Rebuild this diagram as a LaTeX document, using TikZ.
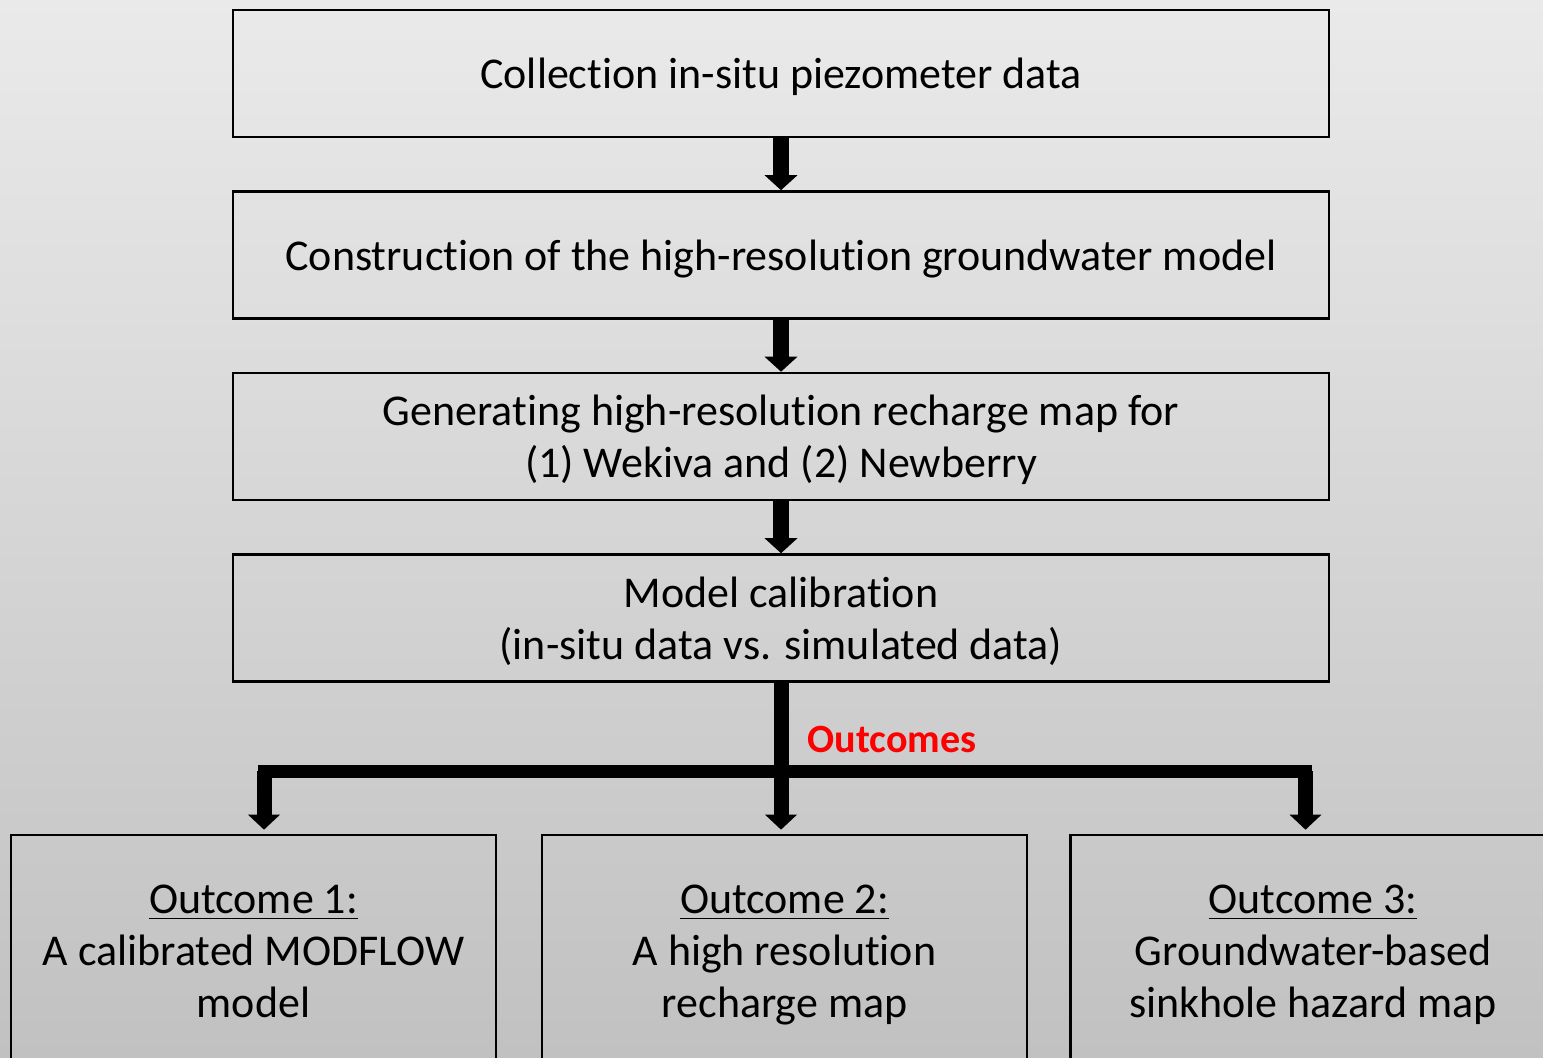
\documentclass[tikz,border=0pt]{standalone}
\usepackage{fontspec}
\setmainfont[Ligatures=NoCommon]{Carlito}
\usetikzlibrary{arrows.meta}

\definecolor{bgtop}{RGB}{234,234,234}
\definecolor{bgbottom}{RGB}{193,193,193}
\definecolor{outred}{RGB}{255,0,0}

\newcommand{\boxfont}{\fontsize{12.5}{14.8}\selectfont}
\newcommand{\bstrut}{\rule[-0.2em]{0pt}{1.1em}}

\begin{document}
\begin{tikzpicture}[x=0.01cm,y=-0.01cm,
  stepbox/.style={draw,line width=0.7pt,minimum width=10.95cm,minimum height=1.27cm,
    align=center,inner sep=0pt,font=\boxfont},
  outbox/.style={draw,line width=0.7pt,minimum width=4.85cm,minimum height=2.3cm,
    align=center,inner sep=0pt,font=\boxfont},
  flow/.style={line width=0.16cm,-{Triangle[width=0.32cm,length=0.15cm]}},
  branch/.style={line width=0.15cm,-{Triangle[width=0.31cm,length=0.15cm]},shorten >=0.04cm},
  bar/.style={line width=0.13cm,line cap=rect}]

\useasboundingbox (0,0) rectangle (1543,1058);
\clip (0,0) rectangle (1543,1058);
\shade[top color=bgtop,bottom color=bgbottom] (0,0) rectangle (1543,1058);

% steps
\node[stepbox] (collect) at (781,73.5) {\bstrut Collection in-situ piezometer data\bstrut};
\node[stepbox] (construct) at (781,255) {\bstrut Construction of the high-resolution groundwater model\bstrut};
\node[stepbox] (recharge) at (781,436.5) {\bstrut Generating high-resolution recharge map for\\(1) Wekiva and (2) Newberry\bstrut};
\node[stepbox] (calib) at (781,618) {\bstrut Model calibration\\(in-situ data vs. simulated data)\bstrut};

% outcomes
\node[outbox] (out1) at (253.5,950) {\bstrut\underline{Outcome 1:}\\A calibrated MODFLOW\\model\bstrut};
\node[outbox] (out2) at (784.5,950) {\bstrut\underline{Outcome 2:}\\A high resolution\\recharge map\bstrut};
\node[outbox] (out3) at (1313,950) {\bstrut\underline{Outcome 3:}\\Groundwater-based\\sinkhole hazard map\bstrut};

\node[anchor=west,inner sep=0pt,text=outred,font=\fontsize{11.4}{13}\selectfont\bfseries] (outlbl) at (807,739) {Outcomes};

\draw[flow] (collect) -- (construct);
\draw[flow] (construct) -- (recharge);
\draw[flow] (recharge) -- (calib);

% branching
\coordinate (left) at (264,771);
\coordinate (right) at (1305.5,771);
\draw[bar] (left) -- (right);
\draw[branch] (calib.south) -- (calib.south |- out2.north);
\draw[branch] (left) -- (left |- out1.north);
\draw[branch] (right) -- (right |- out3.north);

\end{tikzpicture}
\end{document}
